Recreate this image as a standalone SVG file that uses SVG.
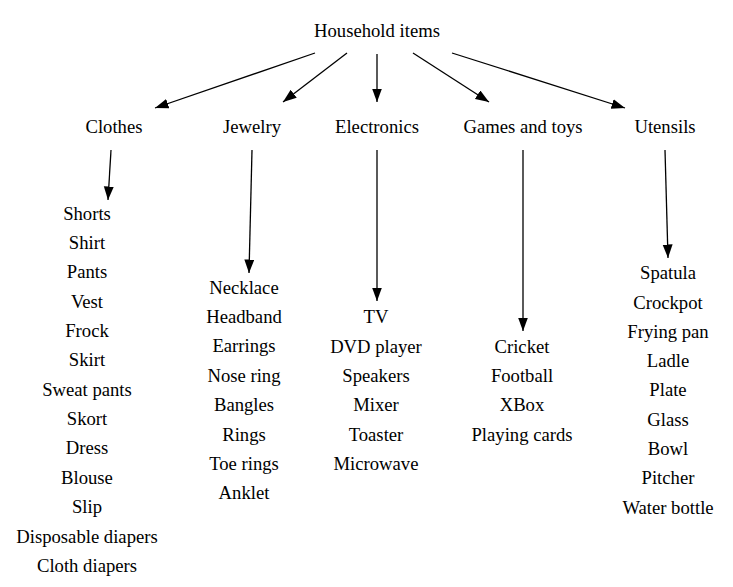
<svg xmlns="http://www.w3.org/2000/svg" width="733" height="587" viewBox="0 0 733 587">
<style>
text{font-family:"Liberation Serif","Times New Roman",serif;font-size:18.67px;fill:#000;text-anchor:middle}
.e line{stroke:#000;stroke-width:1.3;fill:none;marker-end:url(#ah)}
</style>
<defs>
<marker id="ah" markerUnits="userSpaceOnUse" markerWidth="15" markerHeight="11" refX="13.5" refY="5" orient="auto">
<path d="M0,0 L13.5,5 L0,10 Z" fill="#000"/>
</marker>
</defs>
<rect width="733" height="587" fill="#fff"/>
<g class="e" id="connectors">
<line x1="315" y1="53" x2="155" y2="108"/>
<line x1="347" y1="53" x2="283" y2="102"/>
<line x1="377" y1="54" x2="377" y2="102"/>
<line x1="413" y1="53" x2="489" y2="102"/>
<line x1="452" y1="53" x2="625" y2="108"/>
<line x1="111" y1="150" x2="108" y2="200"/>
<line x1="252" y1="150" x2="249" y2="273"/>
<line x1="377" y1="150" x2="377" y2="301"/>
<line x1="523" y1="150" x2="523" y2="331"/>
<line x1="665" y1="150" x2="668" y2="258"/>
</g>
<g id="root"><text x="377" y="37">Household items</text></g>
<g id="clothes"><text x="114" y="133">Clothes</text></g>
<g id="jewelry"><text x="252" y="133">Jewelry</text></g>
<g id="electronics"><text x="377" y="133">Electronics</text></g>
<g id="games"><text x="523" y="133">Games and toys</text></g>
<g id="utensils"><text x="665" y="133">Utensils</text></g>
<g id="clothes-list">
<text x="87" y="220">Shorts</text>
<text x="87" y="249">Shirt</text>
<text x="87" y="278">Pants</text>
<text x="87" y="308">Vest</text>
<text x="87" y="337">Frock</text>
<text x="87" y="366">Skirt</text>
<text x="87" y="396">Sweat pants</text>
<text x="87" y="425">Skort</text>
<text x="87" y="454">Dress</text>
<text x="87" y="484">Blouse</text>
<text x="87" y="513">Slip</text>
<text x="87" y="543">Disposable diapers</text>
<text x="87" y="572">Cloth diapers</text>
</g>
<g id="jewelry-list">
<text x="244" y="294">Necklace</text>
<text x="244" y="323">Headband</text>
<text x="244" y="352">Earrings</text>
<text x="244" y="382">Nose ring</text>
<text x="244" y="411">Bangles</text>
<text x="244" y="441">Rings</text>
<text x="244" y="470">Toe rings</text>
<text x="244" y="499">Anklet</text>
</g>
<g id="electronics-list">
<text x="376" y="323">TV</text>
<text x="376" y="353">DVD player</text>
<text x="376" y="382">Speakers</text>
<text x="376" y="411">Mixer</text>
<text x="376" y="441">Toaster</text>
<text x="376" y="470">Microwave</text>
</g>
<g id="games-list">
<text x="522" y="353">Cricket</text>
<text x="522" y="382">Football</text>
<text x="522" y="411">XBox</text>
<text x="522" y="441">Playing cards</text>
</g>
<g id="utensils-list">
<text x="668" y="279">Spatula</text>
<text x="668" y="309">Crockpot</text>
<text x="668" y="338">Frying pan</text>
<text x="668" y="367">Ladle</text>
<text x="668" y="396">Plate</text>
<text x="668" y="426">Glass</text>
<text x="668" y="455">Bowl</text>
<text x="668" y="484">Pitcher</text>
<text x="668" y="514">Water bottle</text>
</g>
</svg>
